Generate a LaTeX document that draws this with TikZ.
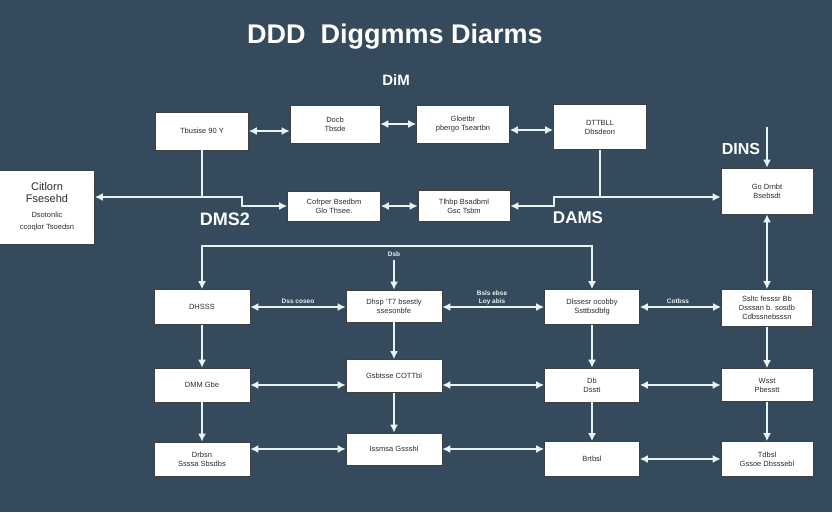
\documentclass[tikz,border=0pt]{standalone}
\usepackage{fontspec}
\setmainfont{Liberation Sans}
\usepackage{xcolor}
\usetikzlibrary{positioning, calc, arrows.meta}
\definecolor{bgslate}{RGB}{53,74,92}
\definecolor{wire}{RGB}{232,244,244}
\definecolor{boxtext}{RGB}{45,45,50}
\newcommand{\smallline}[1]{{\fontsize{7.5}{9}\selectfont #1}}

\begin{document}
\begin{tikzpicture}[x=1pt,y=-1pt,
    box/.style={draw=black!75,line width=0.6pt,fill=white,text=boxtext,align=center,inner sep=1pt,
      minimum width=94pt,minimum height=34pt,font=\fontsize{7.5}{9}\selectfont},
    arr/.style={draw=wire,line width=2pt,-{Latex[length=8pt,width=8pt]}},
    both/.style={draw=wire,line width=2pt,{Latex[length=8pt,width=8pt]}-{Latex[length=8pt,width=8pt]}},
    lbl/.style={text=wire,font=\fontsize{6.5}{7.5}\selectfont\bfseries,align=center},
    big/.style={text=white,font=\fontsize{18}{20}\selectfont\bfseries}]
      \fill[bgslate] (0,0) rectangle (832,512);
      \useasboundingbox (0,0) rectangle (832,512);
      \node[text=white,font=\fontsize{27}{30}\selectfont\bfseries] (title) at (395,37) {DDD\ \ Diggmms Diarms};
      \node[text=white,font=\fontsize{15}{17}\selectfont\bfseries] (dim) at (396,80) {DiM};
      \node[box,minimum width=93pt,minimum height=38pt] (A) at (202,131) {Tbusise 90 Y};
      \node[box,minimum width=90pt,minimum height=38pt] (B) at (335,124) {Docb\\Tbsde};
      \node[box,minimum width=93pt,minimum height=38pt] (C) at (463,124) {Gloetbr\\pbergo Tseartbn};
      \node[box,minimum width=93pt,minimum height=45pt] (D) at (600,127) {DTTBLL\\Dbsdeon};
      \node[box,minimum width=95pt,minimum height=74pt,font=\fontsize{11}{12}\selectfont] (E) at (47,207) {Citlorn\\Fsesehd\\[3pt]\smallline{Dsotonlic}\\\smallline{ccoqlor Tsoedsn}};
      \node[box,minimum width=93pt,minimum height=30pt] (F) at (334,206) {Cofrper Bsedbm\\Glo Thsee.};
      \node[box,minimum width=92pt,minimum height=31pt] (G) at (464,206) {Tlhbp Bsadbml\\Gsc Tsbm};
      \node[box,minimum width=92pt,minimum height=46pt] (H) at (767,191) {Go Drnbt\\Bsebsdt};
      \node[box,minimum width=96pt,minimum height=35pt] (I) at (202,307) {DHSSS};
      \node[box,minimum width=96pt,minimum height=32pt] (J) at (394,306) {Dhsp 'T7 bsestly\\ssesonbfe};
      \node[box,minimum width=95pt,minimum height=35pt] (K) at (592,307) {Dlssesr ocobby\\Ssttbsdbfg};
      \node[box,minimum width=91pt,minimum height=37pt] (L) at (767,308) {Ssltc fesssr Bb\\Dsssan b. sosdb\\Cdbssnebsssn};
      \node[box,minimum width=96pt,minimum height=34pt] (M) at (202,385) {DMM Gbe};
      \node[box,minimum width=96pt,minimum height=33pt] (N) at (394,376) {Gsbtsse COTTbl};
      \node[box,minimum width=95pt,minimum height=34pt] (O) at (592,385) {Db\\Dsstt};
      \node[box,minimum width=92pt,minimum height=33pt] (P) at (767,385) {Wsst\\Pbesstt};
      \node[box,minimum width=96pt,minimum height=34pt] (Q) at (202,459) {Drbsn\\Ssssa Sbsdbs};
      \node[box,minimum width=96pt,minimum height=32pt] (R) at (394,449) {Issmsa Gssshl};
      \node[box,minimum width=95pt,minimum height=35pt] (S) at (592,459) {Brtbsl};
      \node[box,minimum width=92pt,minimum height=35pt] (T) at (767,459) {Tdbsl\\Gssoe Dbsssebl};
      \node[big] (dms) at (225,219) {DMS2};
      \node[big,font=\fontsize{17}{19}\selectfont\bfseries] (dams) at (578,218) {DAMS};
      \node[big,font=\fontsize{16}{18}\selectfont\bfseries] (dins) at (741,149) {DINS};
      \node[lbl] (l1) at (298,301) {Dss coseo};
      \node[lbl] (l2) at (492,298) {Bsls ebse\\Loy abis};
      \node[lbl] (l3) at (678,301) {Cotbss};
      \node[lbl] (l4) at (394,254) {Dsb};
      \coordinate (j1) at (202,197);
      \coordinate (j2) at (600,197);
      \coordinate (c1) at (767,127);
      \coordinate (t) at (400,246);
      \draw[both] (A.east) -- (A.east -| B.west);
      \draw[both] (B.east) -- (B.east -| C.west);
      \draw[both] ([yshift=-6pt]C.east) -- ([yshift=-6pt]C.east -| D.west);
      \draw[wire,line width=2pt] (A.south) -- (j1);
      \draw[arr] (j1) -- (E.east |- j1);
      \draw[arr] (j1) -- ++(40,0) |- (F.west);
      \draw[both] (F.east) -- (F.east -| G.west);
      \draw[wire,line width=2pt] (D.south) -- (j2);
      \draw[arr] (j2) -- (H.west |- j2);
      \draw[arr] (j2) -- ++(-46,0) |- (G.east);
      \draw[arr] (c1) -- (H.north);
      \draw[both] (H.south) -- (L.north);
      \draw[both] (I.north) |- (t) -| (K.north);
      \draw[arr] (l4) -- (l4 |- J.north);
      \draw[both] (I.east) -- (I.east -| J.west);
      \draw[both] (K.west) -- (K.west -| J.east);
      \draw[both] (K.east) -- (K.east -| L.west);
      \draw[arr] (I) -- (M);
      \draw[arr] (M) -- (Q);
      \draw[arr] (J) -- (N);
      \draw[arr] (N) -- (R);
      \draw[arr] (K) -- (O);
      \draw[arr] (O) -- (S);
      \draw[arr] (L) -- (P);
      \draw[arr] (P) -- (T);
      \draw[both] (M.east) -- (M.east -| N.west);
      \draw[both] (O.west) -- (O.west -| N.east);
      \draw[both] (O.east) -- (O.east -| P.west);
      \draw[both] (R.west) -- (R.west -| Q.east);
      \draw[both] (R.east) -- (R.east -| S.west);
      \draw[both] (S.east) -- (S.east -| T.west);
    \end{tikzpicture}
\end{document}
